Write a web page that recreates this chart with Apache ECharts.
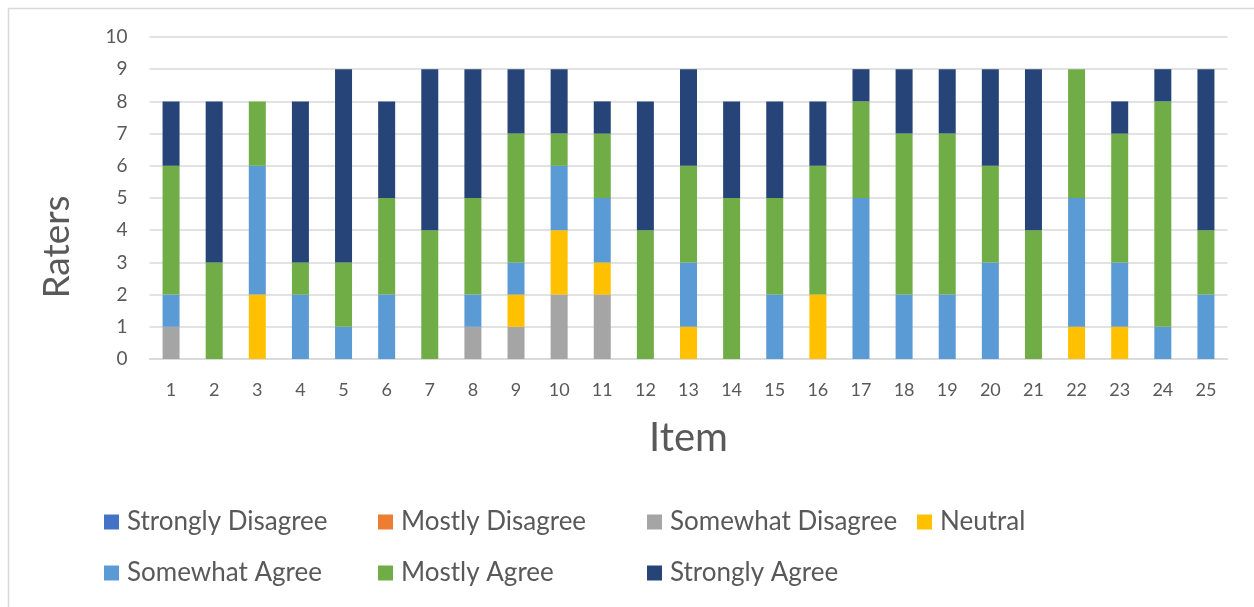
<!DOCTYPE html>
<html>
<head>
<meta charset="utf-8">
<script src="https://cdn.jsdelivr.net/npm/echarts@6/dist/echarts.min.js"></script>
<style>
html,body{margin:0;padding:0;background:#fff;}
#main{width:1254px;height:607px;}
</style>
</head>
<body>
<div id="main"></div>
<script>
const categories = ['1','2','3','4','5','6','7','8','9','10','11','12','13','14','15','16','17','18','19','20','21','22','23','24','25'];
const seriesNames = ['Strongly Disagree','Mostly Disagree','Somewhat Disagree','Neutral','Somewhat Agree','Mostly Agree','Strongly Agree'];
const stronglyDisagree = [0,0,0,0,0,0,0,0,0,0,0,0,0,0,0,0,0,0,0,0,0,0,0,0,0];
const mostlyDisagree   = [0,0,0,0,0,0,0,0,0,0,0,0,0,0,0,0,0,0,0,0,0,0,0,0,0];
const somewhatDisagree = [1,0,0,0,0,0,0,1,1,2,2,0,0,0,0,0,0,0,0,0,0,0,0,0,0];
const neutral          = [0,0,2,0,0,0,0,0,1,2,1,0,1,0,0,2,0,0,0,0,0,1,1,0,0];
const somewhatAgree    = [1,0,4,2,1,2,0,1,1,2,2,0,2,0,2,0,5,2,2,3,0,4,2,1,2];
const mostlyAgree      = [4,3,2,1,2,3,4,3,4,1,2,4,3,5,3,4,3,5,5,3,4,4,4,7,2];
const stronglyAgree    = [2,5,0,5,6,3,5,4,2,2,1,4,3,3,3,2,1,2,2,3,5,0,1,1,5];
const yTicks = [0,10,1];
const xTitle = 'Item';
const yTitle = 'Raters';
const colors = ['#4472C4','#ED7D31','#A5A5A5','#FFC000','#5B9BD5','#70AD47','#264478'];

const values = [stronglyDisagree, mostlyDisagree, somewhatDisagree, neutral, somewhatAgree, mostlyAgree, stronglyAgree];
const FONT = 'Lato, "Open Sans", sans-serif';

const chart = echarts.init(document.getElementById('main'));

function legendCol(names, left){
  return {
    orient:'vertical', left:left, top:504, itemGap:25,
    itemWidth:15, itemHeight:15, icon:'rect',
    data:names, selectedMode:false,
    textStyle:{fontFamily:FONT, fontSize:26, lineHeight:26, color:'#595959', padding:[0,0,0,3]}
  };
}

const option = {
  animation:false,
  color:colors,
  graphic:[{
    type:'rect', shape:{x:8.5, y:8.5, width:1300, height:700},
    style:{fill:'none', stroke:'#d9d9d9', lineWidth:1.5}, silent:true, z:-1
  },{
    type:'text', x:57, y:247, rotation:Math.PI/2, silent:true,
    style:{text:yTitle, textAlign:'center', textVerticalAlign:'middle',
      font:'37px Lato, "Open Sans", sans-serif', fill:'#595959'}
  }],
  grid:{left:149.5, right:26.5, top:37, bottom:248},
  legend:[
    legendCol([seriesNames[0], seriesNames[4]], 99),
    legendCol([seriesNames[1], seriesNames[5]], 373),
    legendCol([seriesNames[2], seriesNames[6]], 642),
    legendCol([seriesNames[3]], 912)
  ],
  xAxis:{
    type:'category', data:categories,
    name:xTitle, nameLocation:'middle', nameGap:59,
    nameTextStyle:{fontFamily:FONT, fontSize:40, color:'#595959'},
    axisLine:{lineStyle:{color:'#d9d9d9', width:1.5}},
    axisTick:{show:false},
    axisLabel:{fontFamily:FONT, fontSize:18, color:'#595959', margin:22}
  },
  yAxis:{
    type:'value', min:yTicks[0], max:yTicks[1], interval:yTicks[2],
    axisLine:{show:false}, axisTick:{show:false},
    splitLine:{lineStyle:{color:'#d9d9d9', width:1.5}},
    axisLabel:{fontFamily:FONT, fontSize:19, color:'#595959', margin:22}
  },
  series: seriesNames.map((n,i)=>({
    name:n, type:'bar', stack:'total', barWidth:17,
    data:values[i],
    itemStyle:{color:colors[i]}
  }))
};
chart.setOption(option);
</script>
</body>
</html>
